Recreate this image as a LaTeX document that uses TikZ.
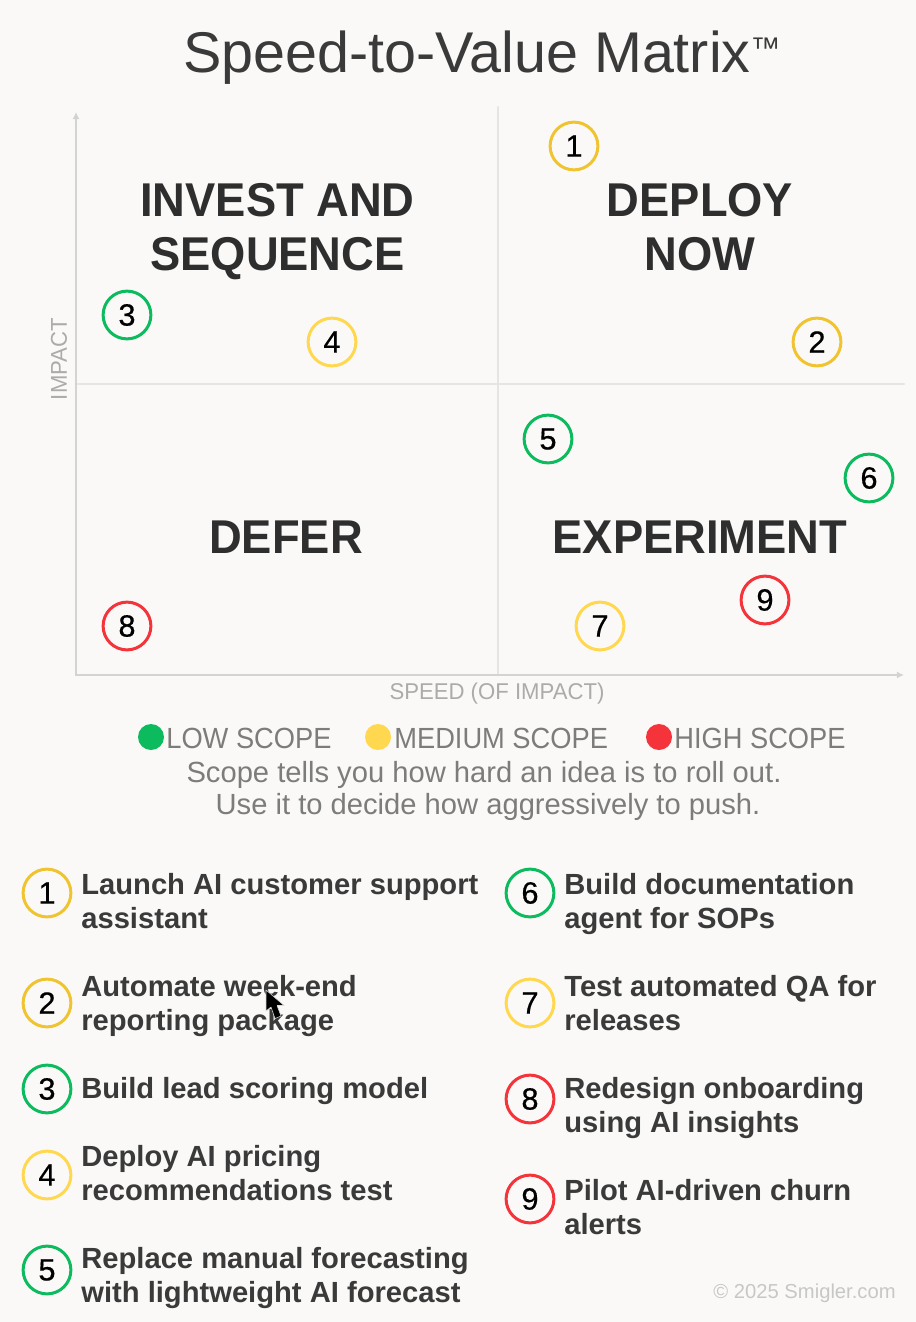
\documentclass[tikz,border=0pt]{standalone}
\usepackage{fontspec}
\setmainfont{Liberation Sans}
\newfontfamily\quadfont[FakeStretch=0.955]{Liberation Sans Bold}
\newfontfamily\legendfont[FakeStretch=0.935]{Liberation Sans}
\newfontfamily\axisfont[FakeStretch=0.97]{Liberation Sans}
\newfontfamily\markfont[FakeBold=0.5]{Liberation Sans}
\usetikzlibrary{arrows.meta}
\definecolor{paper}{HTML}{FAF9F7}
\definecolor{inktitle}{HTML}{3A3A3A}
\definecolor{inkquad}{HTML}{2E2E2E}
\definecolor{inklegend}{HTML}{7C7C7A}
\definecolor{inkaxis}{HTML}{ABABAB}
\definecolor{axisline}{HTML}{D3D3D2}
\definecolor{gridline}{HTML}{E5E5E3}
\definecolor{lowscope}{HTML}{0DBB5F}
\definecolor{midscope}{HTML}{FFD84F}
\definecolor{midscopedark}{HTML}{F0C430}
\definecolor{highscope}{HTML}{F5333A}
\tikzset{
  scopemark/.style={circle,draw=#1,line width=1.7pt,fill=paper,minimum size=27.2pt,inner sep=0pt,
    text=black,font=\fontsize{17.5}{19}\markfont},
  scopedot/.style={circle,fill=#1,minimum size=14.8pt,inner sep=0pt},
  quadlabel/.style={anchor=base,align=center,text=inkquad,inner sep=0pt,
    font=\fontsize{27}{30.7}\quadfont},
  axislabel/.style={text=inkaxis,inner sep=0pt,font=\fontsize{13}{15}\axisfont},
  legendlabel/.style={anchor=base west,text=inklegend,inner sep=0pt,font=\fontsize{16.6}{18}\legendfont},
  notelabel/.style={anchor=base,text=inklegend,inner sep=0pt,font=\fontsize{16.6}{18}\selectfont},
  ideatext/.style={anchor=base west,align=left,text=inktitle,inner sep=0pt,
    font=\fontsize{16.6}{19.3}\selectfont\bfseries},
}
\begin{document}
\begin{tikzpicture}[x=0.02cm,y=-0.02cm,line cap=round,line join=round]
  \fill[paper] (0,0) rectangle (916,1322);
  \node[anchor=base west,text=inktitle,inner sep=0pt,font=\fontsize{32.7}{36}\selectfont] (title) at (183,72) {Speed-to-Value Matrix\raisebox{7.6pt}{\fontsize{17}{19}\selectfont ™}};
  % quadrant lines and axes
  \coordinate (origin) at (76,675);
  \coordinate (ytop) at (76,112);
  \coordinate (xend) at (904,675);
  \coordinate (midtop) at (498,107);
  \coordinate (midbot) at (498,675);
  \coordinate (midleft) at (76,384);
  \coordinate (midright) at (904,384);
  \draw[gridline,line width=1.2pt] (midtop) -- (midbot);
  \draw[gridline,line width=1.2pt] (midleft) -- (midright);
  \draw[axisline,line width=1.2pt,-{Latex[length=4pt,width=4pt]}] (origin) -- (ytop);
  \draw[axisline,line width=1.2pt,-{Latex[length=4pt,width=4pt]}] (origin) -- (xend);
  \node[axislabel,rotate=90] (impact) at (59,359) {IMPACT};
  \node[axislabel] (speed) at (497,694) {SPEED (OF IMPACT)};
  \node[quadlabel] (invest) at (277.5,270) {INVEST AND\\SEQUENCE};
  \node[quadlabel] (deploy) at (700,270) {DEPLOY\\NOW};
  \node[quadlabel] (defer) at (286,553) {DEFER};
  \node[quadlabel] (experiment) at (700,553) {EXPERIMENT};
  % matrix marks
  \foreach \n/\x/\y/\c in {1/574/146/midscopedark,2/817/342/midscopedark,3/127/315/lowscope,
      4/332/342/midscope,5/548/439/lowscope,6/869/478/lowscope,7/600/626/midscope,
      8/127/626/highscope,9/765/600/highscope} {
    \node[scopemark=\c] (plot\n) at (\x,\y) {\n};
  }
  % legend
  \node[scopedot=lowscope] (lowdot) at (151,737) {};
  \node[scopedot=midscope] (middot) at (378,737) {};
  \node[scopedot=highscope] (highdot) at (659,737) {};
  \node[legendlabel] (lowtext) at (166,748) {LOW SCOPE};
  \node[legendlabel] (midtext) at (394,748) {MEDIUM SCOPE};
  \node[legendlabel] (hightext) at (674,748) {HIGH SCOPE};
  \node[notelabel] (noteone) at (484,782) {Scope tells you how hard an idea is to roll out.};
  \node[notelabel] (notetwo) at (488,814) {Use it to decide how aggressively to push.};
  % idea list
  \foreach \n/\x/\y/\c in {1/47/893/midscopedark,2/47/1003/midscopedark,3/47/1089/lowscope,
      4/47/1175/midscope,5/47/1270/lowscope,6/530/893/lowscope,7/530/1003/midscope,
      8/530/1099/highscope,9/530/1199/highscope} {
    \node[scopemark=\c] (idea\n) at (\x,\y) {\n};
  }
  \node[ideatext] (text1) at (81,928) {Launch AI customer support\\assistant};
  \node[ideatext] (text2) at (81,1030) {Automate week-end\\reporting package};
  \node[ideatext] (text3) at (81,1098) {Build lead scoring model};
  \node[ideatext] (text4) at (81,1200) {Deploy AI pricing\\recommendations test};
  \node[ideatext] (text5) at (81,1302) {Replace manual forecasting\\with lightweight AI forecast};
  \node[ideatext] (text6) at (564,928) {Build documentation\\agent for SOPs};
  \node[ideatext] (text7) at (564,1030) {Test automated QA for\\releases};
  \node[ideatext] (text8) at (564,1132) {Redesign onboarding\\using AI insights};
  \node[ideatext] (text9) at (564,1234) {Pilot AI-driven churn\\alerts};
  \node[anchor=base east,text=black!22,inner sep=0pt,font=\fontsize{11.5}{13}\selectfont] (credit) at (896,1298) {© 2025 Smigler.com};
  % pointer over the list
  \fill[black,draw=black!15,line width=0.3pt] (266,990) -- (266,1011) -- (271,1007) -- (275,1018.5) -- (281,1016) -- (277,1005.5) -- (284,1005.5) -- cycle;
\end{tikzpicture}
\end{document}
